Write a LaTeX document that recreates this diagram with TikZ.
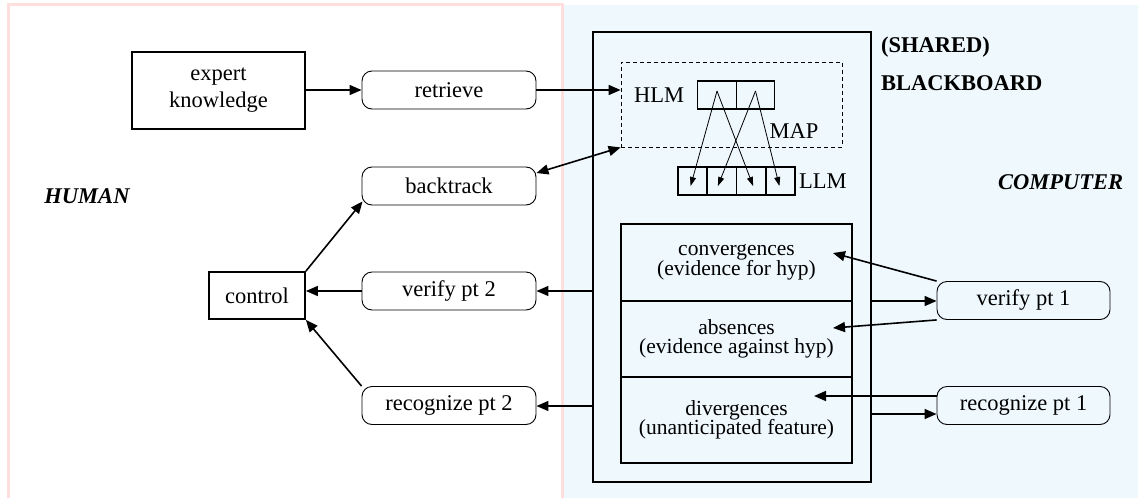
\documentclass[tikz,border=0pt]{standalone}
\usepackage{fontspec}
\setmainfont{Liberation Serif}
\newfontfamily\tnr{Liberation Serif}
\usetikzlibrary{arrows.meta,calc}
\definecolor{bgblue}{HTML}{EEF8FD}
\definecolor{bgpink}{HTML}{FFDEDE}
\begin{document}
\lineskiplimit=-20pt\relax
\begin{tikzpicture}[x=1pt,y=-1pt,
  lbl/.style={font=\tnr\fontsize{22.5}{27}\selectfont},
  hdr/.style={font=\tnr\fontsize{22.5}{27}\selectfont\bfseries\itshape},
  bld/.style={font=\tnr\fontsize{22.5}{27}\selectfont\bfseries},
  inner/.style={font=\tnr\fontsize{21.5}{19.5}\selectfont},
  rbox/.style={draw, rounded corners=10pt, line width=0.9pt, minimum width=174pt, minimum height=38pt, inner sep=0pt, lbl},
  tbox/.style={draw, line width=1.8pt, inner sep=0pt, lbl, align=center},
  cellbox/.style={draw, line width=1.8pt, minimum height=28pt, inner sep=0pt},
  sect/.style={draw, line width=1.1pt, minimum width=231pt, inner sep=0pt, inner, align=center},
  arr/.style={line width=1.6pt, -{Triangle[length=12pt,width=10pt]}},
  biarr/.style={line width=1.6pt, {Triangle[length=12pt,width=10pt]}-{Triangle[length=12pt,width=10pt]}},
  marr/.style={line width=0.8pt, -{Triangle[length=9pt,width=6pt]}},
]
\useasboundingbox (0,0) rectangle (1138,498);
% backgrounds
\fill[bgblue] (563.5,5) rectangle (1138,498);
\draw[bgpink, line width=3pt] (8,498) -- (8,4.5) -- (562.5,4.5) -- (562.5,498);

% human side
\node[tbox, minimum width=173pt, minimum height=77pt] (exp) at (218.5,90.5) {expert\\knowledge};
\node[rbox] (ret) at (449,90) {retrieve};
\node[rbox] (bt) at (449,186) {backtrack};
\node[tbox, minimum width=96pt, minimum height=47pt] (ctrl) at (257,295.5) {control};
\node[rbox] (vp2) at (449,291) {verify pt 2};
\node[rbox] (rp2) at (449,405.5) {recognize pt 2};
\node[hdr] (human) at (87,196) {HUMAN};

% blackboard
\node[draw, line width=1.8pt, minimum width=278pt, minimum height=450pt, inner sep=0pt] (bb) at (732,257) {};
\node[draw, line width=0.8pt, dash pattern=on 4pt off 3pt, minimum width=221pt, minimum height=85pt, inner sep=0pt] (dash) at (731.5,104.5) {};
\node[lbl, anchor=west, inner sep=0pt] (hlm) at (634,95) {HLM};
\node[cellbox, minimum width=39pt] (h1) at (717,95) {};
\node[cellbox, minimum width=38pt] (h2) at (755.5,95) {};
\node[cellbox, minimum width=29.25pt] (l1) at (692.6,181) {};
\node[cellbox, minimum width=29.25pt] (l2) at (721.9,181) {};
\node[cellbox, minimum width=29.25pt] (l3) at (751.1,181) {};
\node[cellbox, minimum width=29.25pt] (l4) at (780.4,181) {};
\node[lbl, anchor=west, inner sep=0pt] (llm) at (799,181) {LLM};
\node[lbl, inner sep=0pt] (map) at (794,131) {MAP};

\node[sect, minimum height=77pt] (conv) at (736.5,262.5) {convergences\\(evidence for hyp)};
\node[sect, minimum height=76pt] (absn) at (736.5,339) {absences\\(evidence against hyp)};
\node[sect, minimum height=86pt] (divg) at (736.5,420) {divergences\\(unanticipated feature)};

\node[bld, anchor=west, inner sep=0pt] (shared) at (881,47) {(SHARED)};
\node[bld, anchor=west, inner sep=0pt] (bbl) at (881,83) {BLACKBOARD};
\node[hdr, anchor=west, inner sep=0pt] (comp) at (998,182) {COMPUTER};

% computer side
\node[rbox, minimum width=173pt] (vp1) at (1023.5,300.5) {verify pt 1};
\node[rbox, minimum width=173pt] (rp1) at (1023.5,405.5) {recognize pt 1};

\coordinate (convin) at (833,253);
\coordinate (absin) at (833,328);
\coordinate (divin) at (814,396);

% connectors
\draw[arr] (exp.east |- ret.west) -- (ret.west);
\draw[arr] (ret.east) -- (ret.east -| dash.west);
\draw[biarr] ([yshift=13pt]bt.east) -- (dash.south west);
\draw[arr] (ctrl.north east) -- ([xshift=1pt,yshift=4pt]bt.south west);
\draw[arr] (vp2.west) -- (vp2.west -| ctrl.east);
\draw[arr] (rp2.north west) -- (ctrl.south east);
\draw[arr] (vp2.east -| bb.west) -- (vp2.east);
\draw[arr] ([yshift=-0.5pt]rp2.east -| bb.west) -- ([yshift=-0.5pt]rp2.east);

\draw[arr] (vp1.north west) -- (convin);
\draw[arr] ([yshift=-0.5pt]vp1.west -| bb.east) -- ([yshift=-0.5pt]vp1.west);
\draw[arr] (vp1.south west) -- (absin);
\draw[arr] (rp1.west |- divin) -- (divin);
\draw[arr] ([yshift=-8.5pt]rp1.west -| bb.east) -- ([yshift=-8.5pt]rp1.west);

% mapping
\draw[marr] ([yshift=4pt]h1.center) -- ([xshift=-2pt,yshift=-5pt]l1.center);
\draw[marr] ([yshift=4pt]h1.center) -- ([xshift=2pt,yshift=-5pt]l3.center);
\draw[marr] ([yshift=4pt]h2.center) -- ([xshift=-4pt,yshift=-5pt]l2.center);
\draw[marr] ([yshift=4pt]h2.center) -- ([xshift=-1pt,yshift=-5pt]l4.center);
\end{tikzpicture}
\end{document}
